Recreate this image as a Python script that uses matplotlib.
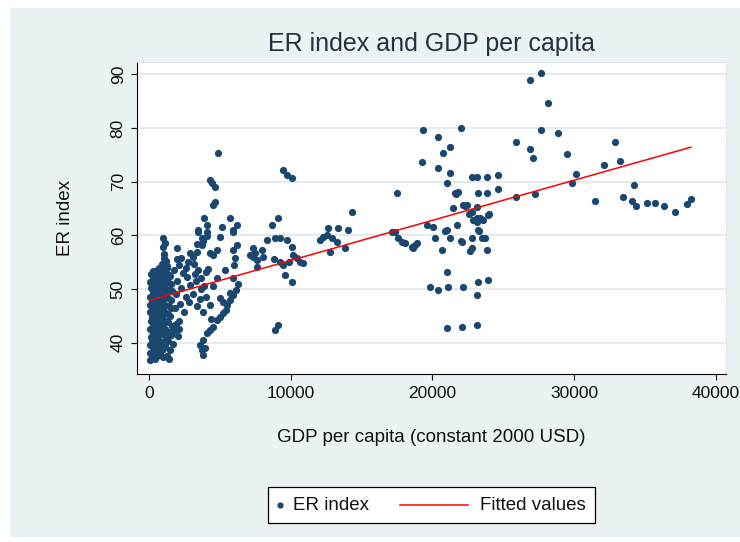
import matplotlib
matplotlib.use("Agg")
import matplotlib.pyplot as plt
from matplotlib.patches import Rectangle
from matplotlib.lines import Line2D
import numpy as np

plt.rcParams["font.family"] = ["Liberation Sans", "DejaVu Sans"]

# ========================
# Data (GDP per capita, ER index), grouped by region
# ========================
low_dense = [
    (60, 38.0), (80, 39.5), (120, 41.0), (90, 42.6), (150, 44.1), (70, 45.7), (110, 47.0), (60, 48.6),
    (130, 50.1), (90, 51.4), (150, 52.8), (100, 36.8),
    (250, 37.2), (280, 38.7), (230, 40.3), (300, 41.8), (260, 43.4), (220, 44.8), (310, 46.3), (240, 47.8),
    (290, 49.3), (250, 50.9), (320, 52.2), (270, 53.4),
    (420, 36.9), (450, 38.2), (400, 39.8), (470, 41.2), (430, 42.9), (410, 44.3), (480, 45.9), (440, 47.4),
    (400, 48.9), (460, 50.4), (430, 51.8), (470, 53.0),
    (600, 37.5), (640, 39.0), (580, 40.6), (620, 42.1), (660, 43.6), (590, 45.2), (630, 46.6), (610, 48.2),
    (650, 49.6), (580, 51.1), (640, 52.5), (600, 53.6),
    (780, 38.1), (820, 39.6), (760, 41.4), (800, 42.8), (840, 44.4), (790, 46.0), (830, 47.3), (770, 48.8),
    (810, 50.3), (850, 51.8), (790, 53.1),
    (960, 37.3), (1000, 38.8), (940, 40.2), (990, 41.9), (1020, 43.5), (950, 45.0), (1000, 46.5), (980, 48.1),
    (1030, 49.5), (960, 51.0), (1010, 52.4), (990, 53.8),
    (1150, 39.4), (1200, 41.1), (1130, 42.5), (1180, 44.0), (1220, 45.6), (1160, 47.1), (1210, 48.7),
    (1140, 50.2), (1190, 51.6), (1230, 53.0),
    (1350, 40.3), (1400, 42.0), (1330, 43.8), (1380, 45.3), (1420, 46.9), (1360, 48.4), (1400, 49.9),
    (1340, 51.4), (1390, 52.7),
    (1550, 41.5), (1600, 43.2), (1520, 44.9), (1580, 46.4), (1540, 48.0), (1600, 49.6), (1560, 51.0), (1520, 52.5),
    (1300, 37.5), (1500, 38.6), (1700, 39.8), (1450, 36.9), (1750, 42.2), (2050, 41.3), (1900, 43.5), (2150, 42.6),
    (1000, 59.5), (1140, 58.6), (1000, 57.8), (1100, 56.5), (1200, 55.2), (900, 54.6), (1300, 54.2),
    (1050, 55.8), (700, 54.0), (1250, 53.9),
]

mid_low = [
    (1800, 53.5), (2100, 54.5), (2400, 53.0), (2000, 51.5), (2700, 52.2), (1900, 49.0), (2300, 50.2),
    (2600, 48.5), (2900, 50.8), (1850, 46.5), (2200, 47.2), (2500, 45.8), (2800, 47.5), (3100, 49.0),
    (3300, 51.5), (3500, 53.5), (3700, 52.0), (3200, 54.6), (3900, 50.5), (3600, 48.2), (4000, 53.2),
    (3400, 46.8), (2100, 44.0), (1950, 55.5),
    (2300, 55.8), (2600, 54.0), (2900, 56.7), (3100, 56.0), (3400, 56.9), (3760, 58.2), (4310, 56.7),
    (4530, 56.3), (4810, 57.3), (2750, 55.0), (3250, 52.8), (1980, 57.6),
    (3700, 50.0), (4000, 48.5), (4300, 47.0), (4500, 50.5), (4800, 52.0), (4200, 53.8), (5400, 53.5),
    (5900, 52.0), (6300, 51.0), (6000, 54.5), (3800, 45.8), (4400, 44.5),
]

upper_left = [
    (3480, 60.6), (4100, 60.6), (5020, 59.7), (5930, 60.6), (3760, 59.5), (4890, 75.3), (4310, 70.3),
    (4450, 69.8), (4660, 69.0), (4660, 66.2), (4520, 65.6), (3890, 63.2), (5720, 63.2), (5160, 61.5),
    (6220, 61.9), (5930, 61.0), (3460, 61.0), (4100, 61.9), (4100, 59.8), (3830, 59.0), (3400, 58.3),
    (7340, 57.6),
]

lower_branch = [
    (3760, 38.6), (3830, 37.7), (3830, 40.5), (4100, 41.8), (4310, 42.4), (4530, 42.9), (4810, 44.2),
    (5020, 44.8), (5230, 45.5), (5440, 46.1), (5020, 48.3), (5230, 47.6), (5510, 47.0), (5720, 47.9),
    (5930, 48.9), (5720, 49.3), (6150, 49.8), (3600, 39.5), (3950, 39.0),
]

mid = [
    (6220, 58.2), (5930, 57.3), (6100, 55.8), (7140, 56.3), (7490, 56.7), (7630, 55.4), (7350, 56.0),
    (7630, 54.1), (7980, 57.3), (8050, 56.0), (8330, 59.1), (8680, 61.9), (9110, 63.2), (8890, 59.5),
    (9250, 59.5), (9750, 59.1), (10100, 57.8), (8820, 55.5), (9250, 55.0), (9460, 54.5), (9890, 55.0),
    (9600, 52.6), (10100, 51.3), (10170, 56.3), (10450, 55.8), (10660, 55.0), (10870, 54.8),
    (9460, 72.1), (9750, 71.2), (10100, 70.6), (8890, 42.4), (9110, 43.3),
]

mid_12k = [
    (12080, 59.1), (12300, 59.7), (12640, 61.3), (12570, 60.0), (12920, 59.5), (13280, 58.8),
    (13350, 61.3), (12780, 56.9), (13840, 57.6), (14050, 61.0), (14330, 64.3),
]

band_17k = [
    (17520, 67.9), (17150, 60.6), (17370, 60.6), (17590, 59.5), (17870, 58.8), (18080, 58.5),
    (18580, 57.8), (18790, 58.2), (18920, 58.5), (18650, 57.6),
]

high_mid = [
    (19280, 73.6), (19350, 79.6), (20410, 78.3), (20760, 75.3), (21250, 76.4), (20410, 72.5),
    (21250, 71.6), (21040, 69.7), (21600, 67.9), (21810, 68.1), (21460, 65.0), (22160, 65.6),
    (22450, 65.6), (22800, 64.3), (22870, 62.8), (23150, 63.3), (23360, 63.2), (23570, 62.8),
    (23930, 63.8), (22800, 70.9), (23150, 70.9), (23860, 70.9), (23220, 67.9), (23860, 67.9),
    (24630, 71.2), (24630, 68.7), (22030, 80.0), (22300, 65.4), (23150, 65.2), (22590, 63.9),
    (23150, 62.5), (24010, 63.9), (21670, 67.7),
    (19630, 61.9), (20060, 61.5), (20200, 59.5), (21040, 61.0), (21250, 59.5), (21740, 62.0),
    (22090, 58.8), (22800, 59.5), (23500, 59.5), (23220, 61.0), (23710, 59.5), (22800, 57.6),
    (22660, 57.1), (23860, 57.3), (20690, 57.3), (21040, 53.1), (19840, 50.4), (20410, 49.8),
    (21110, 50.4), (22160, 50.4), (23220, 51.3), (23930, 51.7), (23150, 48.9), (21040, 42.7),
    (22090, 42.9), (23150, 43.3), (20910, 60.8), (23290, 60.8), (22020, 58.9),
]

high = [
    (26900, 88.9), (27660, 90.2), (28160, 84.6), (25910, 77.4), (26900, 76.1), (27110, 74.4),
    (27660, 79.6), (28860, 79.0), (29490, 75.1), (30130, 71.4), (29840, 69.7), (27250, 67.7),
    (25910, 67.1), (32130, 73.1), (32900, 77.4), (33270, 73.8), (34260, 69.3), (33480, 67.1),
    (31480, 66.4), (34120, 66.4), (34400, 65.4), (35150, 66.0), (35720, 66.0), (36350, 65.4),
    (37120, 64.3), (37970, 65.8), (38250, 66.8),
]

# linear fit
fit_intercept = 47.85
fit_slope = 0.000747

x_ticks = [0, 10000, 20000, 30000, 40000]
y_ticks = [40, 50, 60, 70, 80, 90]

# ========================
# Style (Stata s2color look)
# ========================
NAVY = "#1a476f"
RED = "#ff0000"
BG = "#eaf2f3"
GRID = "#e2ebee"
TXT = "#111111"

W, H = 740, 542
def fx(px):
    return px / W
def fy(py):
    return 1 - py / H

pts = np.array(low_dense + mid_low + upper_left + lower_branch + mid + mid_12k + band_17k + high_mid + high)
gdp, er = pts[:, 0], pts[:, 1]

fig = plt.figure(figsize=(W / 100, H / 100), dpi=100)
fig.patch.set_facecolor("white")
fig.patches.append(Rectangle((fx(10), fy(537)), fx(740) - fx(10), fy(8) - fy(537),
                             transform=fig.transFigure, facecolor=BG, edgecolor="none", zorder=-10))

ax = fig.add_axes([fx(136.5), fy(374), fx(726) - fx(136.5), fy(62) - fy(374)])
ax.set_facecolor("white")

ax.scatter(gdp, er, s=27, color=NAVY, linewidths=0, zorder=3)
xs = np.array([gdp.min(), gdp.max()])
ax.plot(xs, fit_intercept + fit_slope * xs, color=RED, lw=1.1, zorder=4)

ax.set_xlim(-875, 40727)
ax.set_ylim(34.17, 92.29)
ax.set_xticks(x_ticks)
ax.set_xticklabels([str(v) for v in x_ticks])
ax.set_yticks(y_ticks)
ax.set_yticklabels([str(v) for v in y_ticks], rotation=90, va="center")
ax.yaxis.grid(True, color=GRID, lw=1.3, zorder=0)
ax.set_axisbelow(True)

for side in ("top", "right"):
    ax.spines[side].set_color("#dde6ea")
    ax.spines[side].set_linewidth(0.8)
for side in ("left", "bottom"):
    ax.spines[side].set_color("black")
    ax.spines[side].set_linewidth(0.8)
ax.tick_params(direction="out", length=4.3, width=0.8, labelsize=12.5, colors=TXT)
ax.tick_params(axis="x", pad=4.5)
ax.tick_params(axis="y", pad=3.5)

fig.text(fx(431), fy(44), "ER index and GDP per capita", ha="center", va="center",
         fontsize=18, color="#24323e")
fig.text(fx(431), fy(437), "GDP per capita (constant 2000 USD)", ha="center", va="center",
         fontsize=13.5, color=TXT)
fig.text(fx(66), fy(218), "ER index", ha="center", va="center", rotation=90,
         fontsize=13.5, color=TXT)

# legend box, laid out like Stata's
fig.patches.append(Rectangle((fx(268), fy(523)), fx(595) - fx(268), fy(487) - fy(523),
                             transform=fig.transFigure, facecolor="white", edgecolor="black", lw=0.9))
fig.lines.append(Line2D([fx(280)], [fy(505)], transform=fig.transFigure, marker="o",
                        markersize=4.5, color=NAVY, markeredgewidth=0, linestyle="none"))
fig.text(fx(293), fy(505), "ER index", ha="left", va="center", fontsize=13.5, color=TXT)
fig.lines.append(Line2D([fx(400), fx(468)], [fy(505), fy(505)], transform=fig.transFigure,
                        color=RED, lw=1.1))
fig.text(fx(480), fy(505), "Fitted values", ha="left", va="center", fontsize=13.5, color=TXT)

fig.savefig("out.png", dpi=100, facecolor=fig.get_facecolor())
